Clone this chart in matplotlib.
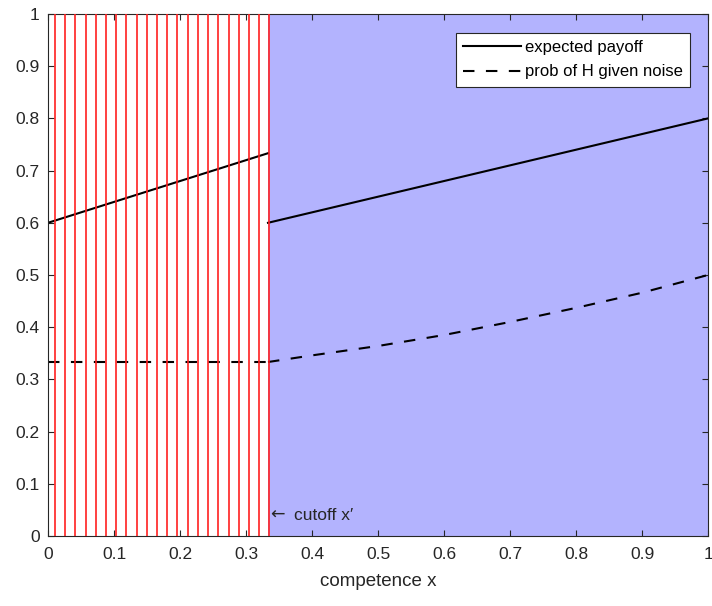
import matplotlib
matplotlib.use("Agg")
import matplotlib.pyplot as plt

plt.rcParams['font.family'] = ['Liberation Sans', 'DejaVu Sans']

# data
cutoff = 1/3
left_x = [0.0, 1/3]
left_payoff = [0.6, 0.7333]
right_x = [1/3, 0.4, 0.5, 0.6, 0.7, 0.8, 0.9, 1.0]
right_payoff = [0.6, 0.62, 0.65, 0.68, 0.71, 0.74, 0.77, 0.8]
left_prob = [0.3333, 0.3333]
right_prob = [0.3333, 0.346, 0.364, 0.385, 0.41, 0.437, 0.466, 0.5]
red_lines = [0.0106, 0.0261, 0.0415, 0.057, 0.0725, 0.0879, 0.1034, 0.1189,
             0.1343, 0.1498, 0.1652, 0.1807, 0.1962, 0.2116, 0.2271, 0.2425,
             0.258, 0.2735, 0.2889, 0.3044, 0.3199, 0.3353]
ticks = [0, 0.1, 0.2, 0.3, 0.4, 0.5, 0.6, 0.7, 0.8, 0.9, 1]
tick_labels = ['0', '0.1', '0.2', '0.3', '0.4', '0.5', '0.6', '0.7', '0.8', '0.9', '1']

fig = plt.figure(figsize=(7.12, 6.06), dpi=100)
ax = fig.add_axes([48/712, 1-536/606, 660/712, 522/606])

ax.axvspan(cutoff, 1, color='#b3b3fe', lw=0, zorder=0)
for xv in red_lines:
    ax.axvline(xv, color='#ff2020', lw=1.2, zorder=3)

dash = (0, (5.5, 5.5))
ax.plot(left_x, left_payoff, color='black', lw=1.5, zorder=2, label='expected payoff')
ax.plot(right_x, right_payoff, color='black', lw=1.5, zorder=2)
ax.plot(left_x, left_prob, color='black', lw=1.5, ls=dash, zorder=2,
        label='prob of H given noise')
ax.plot(right_x, right_prob, color='black', lw=1.5, ls=dash, zorder=2)

ax.text(0.336, 0.04, '\u2190', fontsize=12.5, color='#262626',
        va='center', ha='left', family=['DejaVu Sans'])
ax.text(0.373, 0.04, 'cutoff x\u2032', fontsize=12.5, color='#262626',
        va='center', ha='left')

ax.set_xlim(0, 1)
ax.set_ylim(0, 1)
ax.set_xticks(ticks)
ax.set_xticklabels(tick_labels)
ax.set_yticks(ticks)
ax.set_yticklabels(tick_labels)
ax.tick_params(direction='in', top=True, right=True, labelsize=12.5,
               colors='#262626', length=4, width=0.8)
ax.tick_params(axis='x', pad=8)
ax.tick_params(axis='y', pad=6)
for s in ax.spines.values():
    s.set_color('#262626')
    s.set_linewidth(0.8)
ax.set_xlabel('competence x', fontsize=13.5, color='#262626', labelpad=8)

leg = ax.legend(loc='upper right', bbox_to_anchor=(0.973, 0.964), fontsize=12,
                frameon=True, fancybox=False, edgecolor='#262626', framealpha=1,
                handlelength=3.5, borderpad=0.45, labelspacing=0.55, handletextpad=0.2,
                borderaxespad=0.0)
leg.get_frame().set_linewidth(0.8)
leg.set_zorder(5)

fig.savefig('out.png', dpi=100)
